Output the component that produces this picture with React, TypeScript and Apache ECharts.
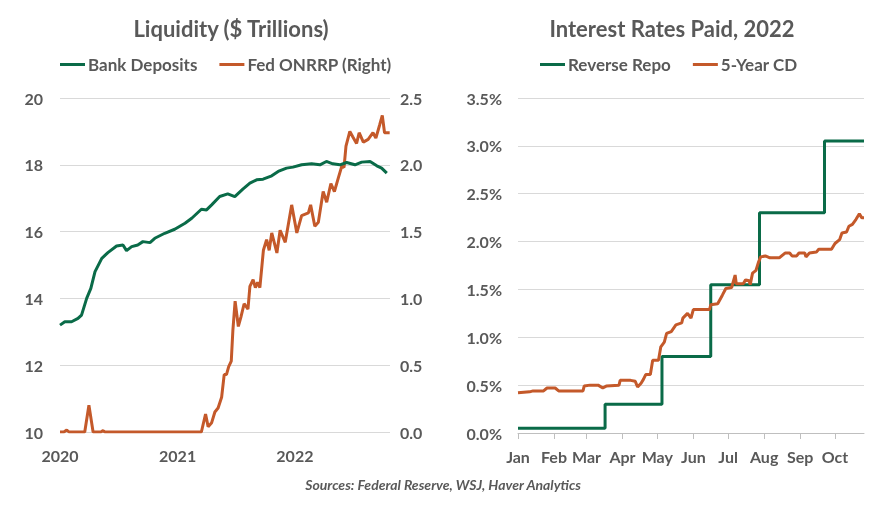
import React, { useEffect, useRef } from "react";
import * as echarts from "echarts";

// ---- Left chart: Liquidity ($ Trillions) ----
const depositDates = [
  "2020-01-01", "2020-01-16", "2020-02-06", "2020-02-26", "2020-03-08", "2020-03-24",
  "2020-04-06", "2020-04-19", "2020-05-10", "2020-05-29", "2020-06-25", "2020-07-15",
  "2020-07-26", "2020-08-11", "2020-08-30", "2020-09-15", "2020-10-07", "2020-10-22",
  "2020-11-22", "2020-12-23", "2021-01-24", "2021-02-14", "2021-03-16", "2021-04-01",
  "2021-04-17", "2021-05-12", "2021-06-06", "2021-06-28", "2021-07-23", "2021-08-14",
  "2021-09-04", "2021-09-24", "2021-10-21", "2021-11-10", "2021-12-06", "2021-12-26",
  "2022-01-22", "2022-02-22", "2022-03-20", "2022-04-09", "2022-04-29", "2022-05-21",
  "2022-06-11", "2022-07-07", "2022-07-28", "2022-08-23", "2022-09-13", "2022-09-28",
  "2022-10-14",
];
const depositValues = [
  13.2, 13.3, 13.3, 13.4, 13.5, 14.0,
  14.3, 14.8, 15.2, 15.37, 15.57, 15.6,
  15.43, 15.55, 15.6, 15.7, 15.67, 15.8,
  15.95, 16.07, 16.25, 16.4, 16.67, 16.65,
  16.8, 17.05, 17.13, 17.05, 17.27, 17.45,
  17.55, 17.57, 17.67, 17.8, 17.9, 17.93,
  18.0, 18.03, 18.0, 18.1, 18.03, 18.0,
  18.07, 18.0, 18.08, 18.1, 17.97, 17.9,
  17.75,
];

const onrrpDates = [
  "2020-01-01", "2020-01-13", "2020-01-22", "2020-01-29", "2020-03-18", "2020-03-31",
  "2020-04-13", "2020-05-07", "2020-05-14", "2020-05-20", "2021-03-16", "2021-03-29",
  "2021-04-06", "2021-04-17", "2021-04-27", "2021-05-07", "2021-05-18", "2021-05-26",
  "2021-06-02", "2021-06-09", "2021-06-17", "2021-06-22", "2021-06-29", "2021-07-09",
  "2021-07-17", "2021-07-27", "2021-08-08", "2021-08-14", "2021-08-24", "2021-08-31",
  "2021-09-07", "2021-09-14", "2021-09-25", "2021-10-05", "2021-10-13", "2021-10-21",
  "2021-11-06", "2021-11-16", "2021-12-02", "2021-12-22", "2022-01-07", "2022-01-22",
  "2022-02-12", "2022-02-19", "2022-03-04", "2022-03-15", "2022-03-30", "2022-04-10",
  "2022-04-23", "2022-05-04", "2022-05-16", "2022-05-27", "2022-06-03", "2022-06-09",
  "2022-06-21", "2022-06-30", "2022-07-12", "2022-07-20", "2022-08-02", "2022-08-17",
  "2022-09-01", "2022-09-10", "2022-09-22", "2022-09-30", "2022-10-07", "2022-10-23",
];
const onrrpValues = [
  0, 0, 0.015, 0, 0, 0.2,
  0, 0, 0.01, 0, 0, 0.135,
  0.04, 0.07, 0.15, 0.18, 0.26, 0.43,
  0.43, 0.49, 0.53, 0.76, 0.98, 0.79,
  0.86, 0.96, 0.92, 1.09, 1.14, 1.08,
  1.12, 1.08, 1.36, 1.44, 1.36, 1.49,
  1.34, 1.51, 1.42, 1.7, 1.49, 1.62,
  1.64, 1.7, 1.54, 1.57, 1.8, 1.72,
  1.86, 1.8, 1.9, 1.99, 1.98, 2.14,
  2.25, 2.21, 2.16, 2.24, 2.17, 2.19,
  2.24, 2.2, 2.3, 2.37, 2.24, 2.24,
];

// ---- Right chart: Interest Rates Paid, 2022 ----
const repoDates = ["2022-01-01", "2022-03-17", "2022-05-05", "2022-06-16", "2022-07-28", "2022-09-22", "2022-10-26"];
const repoValues = [0.05, 0.3, 0.8, 1.55, 2.3, 3.05, 3.05];

const cdDates = [
  "2022-01-01", "2022-01-11", "2022-01-14", "2022-01-23", "2022-01-26", "2022-02-02",
  "2022-02-05", "2022-02-26", "2022-02-27", "2022-03-04", "2022-03-11", "2022-03-15",
  "2022-03-18", "2022-03-29", "2022-03-30", "2022-04-08", "2022-04-12", "2022-04-14",
  "2022-04-17", "2022-04-19", "2022-04-21", "2022-04-25", "2022-04-27", "2022-05-02",
  "2022-05-04", "2022-05-07", "2022-05-09", "2022-05-13", "2022-05-17", "2022-05-22",
  "2022-05-23", "2022-05-27", "2022-05-30", "2022-06-01", "2022-06-15", "2022-06-16",
  "2022-06-22", "2022-06-26", "2022-06-29", "2022-07-04", "2022-07-07", "2022-07-08",
  "2022-07-14", "2022-07-16", "2022-07-19", "2022-07-20", "2022-07-22", "2022-07-25",
  "2022-07-27", "2022-07-29", "2022-08-02", "2022-08-06", "2022-08-14", "2022-08-19",
  "2022-08-23", "2022-08-25", "2022-08-29", "2022-08-31", "2022-09-05", "2022-09-06",
  "2022-09-09", "2022-09-15", "2022-09-17", "2022-09-28", "2022-10-01", "2022-10-05",
  "2022-10-07", "2022-10-11", "2022-10-13", "2022-10-16", "2022-10-19", "2022-10-22",
  "2022-10-24", "2022-10-26",
];
const cdValues = [
  0.42, 0.43, 0.44, 0.44, 0.47, 0.47,
  0.44, 0.44, 0.49, 0.5, 0.5, 0.47,
  0.49, 0.5, 0.55, 0.55, 0.54, 0.48,
  0.52, 0.56, 0.61, 0.61, 0.76, 0.76,
  0.9, 0.95, 1.04, 1.06, 1.13, 1.15,
  1.2, 1.25, 1.2, 1.29, 1.29, 1.34,
  1.35, 1.44, 1.51, 1.52, 1.65, 1.56,
  1.56, 1.6, 1.59, 1.55, 1.67, 1.7,
  1.78, 1.84, 1.85, 1.83, 1.83, 1.88,
  1.88, 1.85, 1.85, 1.88, 1.88, 1.84,
  1.88, 1.89, 1.92, 1.92, 1.98, 2.02,
  2.09, 2.1, 2.16, 2.18, 2.23, 2.29,
  2.25, 2.25,
];

const monthNames = ["Jan", "Feb", "Mar", "Apr", "May", "Jun", "Jul", "Aug", "Sep", "Oct", "Nov", "Dec"];

const GREEN = "#0A6B48";
const ORANGE = "#C4592A";
const TEXT = "#595959";
const GRID = "#D9D9D9";
const FONT = "Lato, 'Open Sans', sans-serif";

const zip = (d: string[], v: number[]) => d.map((x, i) => [x, v[i]]);

export default function App() {
  const ref = useRef<HTMLDivElement>(null);
  useEffect(() => {
    if (!ref.current) return;
    const chart = echarts.init(ref.current, null, { renderer: "svg" });
    const label = { color: TEXT, fontSize: 16, fontWeight: "bold" as const, fontFamily: FONT };
    const legendText = { color: TEXT, fontSize: 17, fontWeight: "bold" as const, fontFamily: FONT, padding: [0, 0, 0, -2] };
    const DAY = 86400000;
    chart.setOption({
      animation: false,
      textStyle: { fontFamily: FONT },
      title: [
        {
          text: "Liquidity ($ Trillions)",
          left: 226,
          top: 12,
          textAlign: "center",
          textStyle: { color: TEXT, fontSize: 22, fontWeight: "bold", fontFamily: FONT },
        },
        {
          text: "Interest Rates Paid, 2022",
          left: 667,
          top: 12,
          textAlign: "center",
          textStyle: { color: TEXT, fontSize: 22, fontWeight: "bold", fontFamily: FONT },
        },
      ],
      legend: [
        {
          left: 60,
          top: 56,
          padding: 0,
          icon: "rect",
          itemWidth: 25,
          itemHeight: 3,
          itemGap: 22,
          textStyle: legendText,
          data: ["Bank Deposits", "Fed ONRRP (Right)"],
        },
        {
          left: 540,
          top: 56,
          padding: 0,
          icon: "rect",
          itemWidth: 25,
          itemHeight: 3,
          itemGap: 22,
          textStyle: legendText,
          data: ["Reverse Repo", "5-Year CD"],
        },
      ],
      grid: [
        { left: 60, right: 497, top: 98, bottom: 73 },
        { left: 518, right: 23, top: 98, bottom: 72 },
      ],
      xAxis: [
        {
          type: "time",
          gridIndex: 0,
          min: "2020-01-01",
          max: "2022-10-24",
          minInterval: 365 * DAY,
          axisLine: { show: false },
          axisTick: { show: false },
          splitLine: { show: false },
          axisLabel: {
            ...label,
            margin: 15,
            formatter: (val: number) => {
              const d = new Date(val);
              return d.getMonth() === 0 && d.getDate() === 1 ? String(d.getFullYear()) : "";
            },
          },
        },
        {
          type: "time",
          gridIndex: 1,
          min: "2022-01-01",
          max: "2022-10-26",
          minInterval: 28 * DAY,
          maxInterval: 31 * DAY,
          axisLine: { show: true, lineStyle: { color: "#BFBFBF", width: 1 } },
          axisTick: { show: true, length: 6, lineStyle: { color: "#BFBFBF" } },
          splitLine: { show: false },
          axisLabel: {
            ...label,
            margin: 15,
            formatter: (val: number) => monthNames[new Date(val).getMonth()],
          },
        },
      ],
      yAxis: [
        {
          type: "value",
          gridIndex: 0,
          min: 10,
          max: 20,
          interval: 2,
          axisLine: { show: false },
          axisTick: { show: false },
          splitLine: { lineStyle: { color: GRID, width: 1 } },
          axisLabel: { ...label, margin: 17 },
        },
        {
          type: "value",
          gridIndex: 0,
          position: "right",
          min: 0,
          max: 2.5,
          interval: 0.5,
          axisLine: { show: false },
          axisTick: { show: false },
          splitLine: { show: false },
          axisLabel: { ...label, margin: 10, formatter: (v: number) => v.toFixed(1) },
        },
        {
          type: "value",
          gridIndex: 1,
          min: 0,
          max: 3.5,
          interval: 0.5,
          axisLine: { show: false },
          axisTick: { show: false },
          splitLine: { lineStyle: { color: GRID, width: 1 } },
          axisLabel: { ...label, margin: 16, formatter: (v: number) => v.toFixed(1) + "%" },
        },
      ],
      series: [
        {
          name: "Bank Deposits",
          type: "line",
          xAxisIndex: 0,
          yAxisIndex: 0,
          data: zip(depositDates, depositValues),
          showSymbol: false,
          symbol: "none",
          lineStyle: { color: GREEN, width: 3 },
          itemStyle: { color: GREEN },
          z: 3,
        },
        {
          name: "Fed ONRRP (Right)",
          type: "line",
          xAxisIndex: 0,
          yAxisIndex: 1,
          data: zip(onrrpDates, onrrpValues),
          showSymbol: false,
          symbol: "none",
          lineStyle: { color: ORANGE, width: 3 },
          itemStyle: { color: ORANGE },
          z: 2,
        },
        {
          name: "Reverse Repo",
          type: "line",
          step: "end",
          xAxisIndex: 1,
          yAxisIndex: 2,
          data: zip(repoDates, repoValues),
          showSymbol: false,
          symbol: "none",
          lineStyle: { color: GREEN, width: 3 },
          itemStyle: { color: GREEN },
          z: 2,
        },
        {
          name: "5-Year CD",
          type: "line",
          xAxisIndex: 1,
          yAxisIndex: 2,
          data: zip(cdDates, cdValues),
          showSymbol: false,
          symbol: "none",
          lineStyle: { color: ORANGE, width: 3 },
          itemStyle: { color: ORANGE },
          z: 3,
        },
      ],
      graphic: [
        {
          type: "text",
          left: "center",
          top: 477,
          style: {
            text: "Sources: Federal Reserve, WSJ, Haver Analytics",
            fill: TEXT,
            font: "italic bold 14px Lato, 'Open Sans', sans-serif",
          },
        },
      ],
    });
    return () => chart.dispose();
  }, []);
  return <div ref={ref} style={{ position: "fixed", left: 0, top: 0, width: 887, height: 505 }} />;
}
